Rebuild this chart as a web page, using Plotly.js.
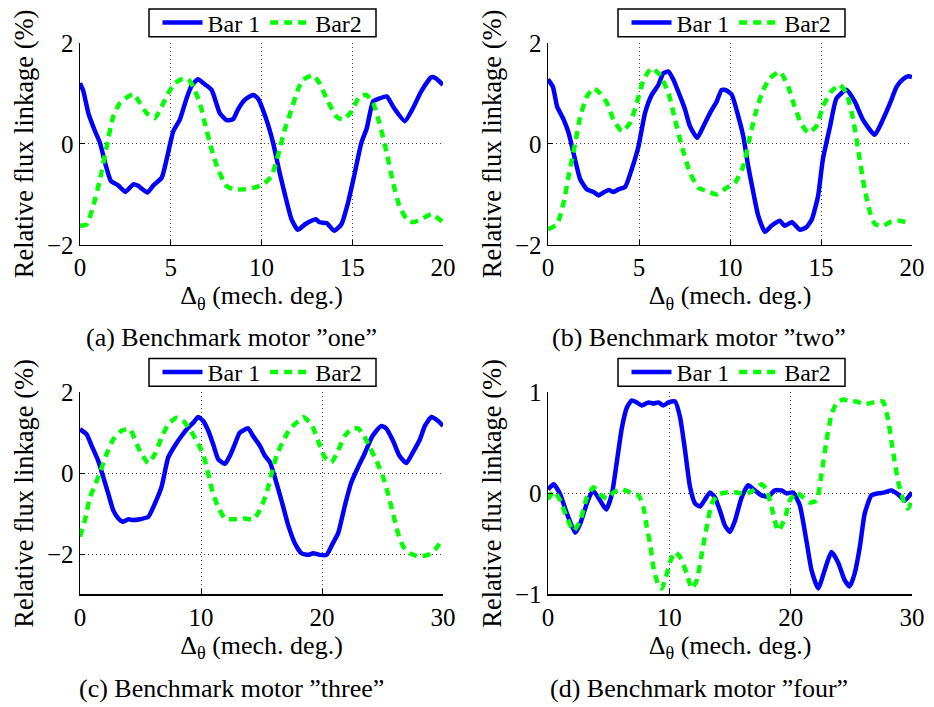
<!DOCTYPE html>
<html>
<head>
<meta charset="utf-8">
<script src="https://cdn.plot.ly/plotly-3.0.1.min.js"></script>
<style>html,body{margin:0;padding:0;background:#fff;}#chart{width:934px;height:707px;}</style>
</head>
<body>
<div id="chart"></div>
<script>
// ---------- data ----------
const seriesNames = ['Bar 1', 'Bar2'];
const captions = ['(a) Benchmark motor \u201done\u201d', '(b) Benchmark motor \u201dtwo\u201d',
                  '(c) Benchmark motor \u201dthree\u201d', '(d) Benchmark motor \u201dfour\u201d'];
const xTitle = '\u0394<sub>\u03b8</sub> (mech. deg.)';
const yTitle = 'Relative flux linkage (%)';

// (a) motor one
const aBar1X = [0,0.18,0.46,0.83,1.1,1.38,1.7,2.1,2.5,2.94,3.2,3.72,4.04,4.5,4.77,5.14,5.5,5.87,6.15,6.5,6.8,7.25,7.7,8.07,8.44,8.7,9.08,9.54,9.8,10.27,10.64,11.0,11.4,11.65,12.0,12.4,12.75,13.0,13.2,13.6,14.0,14.4,14.77,15.1,15.5,15.8,16.15,16.5,16.9,17.3,17.9,18.35,18.8,19.36,19.6,20];
const aBar1Y = [1.2,1.05,0.61,0.25,0.02,-0.37,-0.73,-0.82,-0.95,-0.8,-0.83,-0.96,-0.82,-0.67,-0.31,0.25,0.48,0.9,1.15,1.28,1.2,1.07,0.61,0.47,0.49,0.68,0.87,0.97,0.9,0.48,0.02,-0.57,-1.16,-1.49,-1.7,-1.59,-1.52,-1.49,-1.55,-1.57,-1.72,-1.59,-1.16,-0.64,0.02,0.31,0.84,0.9,0.94,0.71,0.45,0.71,1.04,1.32,1.3,1.17];
const aBar2X = [0,0.37,0.73,1.1,1.47,1.83,2.2,2.66,2.94,3.3,3.67,4.13,4.5,4.86,5.23,5.6,5.96,6.24,6.6,6.88,7.25,7.6,8.07,8.44,8.99,9.54,10.09,10.55,10.9,11.28,11.65,12.0,12.3,12.84,13.2,13.66,14.13,14.5,14.95,15.4,15.78,16.15,16.5,16.9,17.25,17.6,18.0,18.35,18.8,19.36,20];
const aBar2Y = [-1.62,-1.59,-1.23,-0.7,-0.05,0.54,0.81,0.94,0.99,0.81,0.61,0.51,0.74,1.0,1.2,1.28,1.28,1.13,0.81,0.41,-0.11,-0.5,-0.83,-0.9,-0.9,-0.87,-0.8,-0.64,-0.24,0.28,0.68,1.07,1.27,1.36,1.2,0.84,0.54,0.48,0.64,0.94,0.97,0.81,0.41,-0.18,-0.77,-1.23,-1.49,-1.55,-1.49,-1.39,-1.55];

// (b) motor two
const bBar1X = [0,0.27,0.5,0.86,1.13,1.4,1.77,2.14,2.5,2.78,3.05,3.33,3.6,3.87,4.24,4.6,4.97,5.33,5.7,6.07,6.34,6.62,6.89,7.26,7.53,7.8,8.2,8.54,8.9,9.27,9.54,9.8,10.1,10.46,10.73,11.0,11.28,11.55,11.92,12.28,12.74,13.0,13.4,13.84,14.2,14.5,14.84,15.1,15.5,15.85,16.4,16.85,17.3,17.95,18.4,18.8,19.15,19.5,19.8,20];
const bBar1Y = [1.28,1.13,0.74,0.48,0.22,-0.18,-0.7,-0.9,-0.95,-1.02,-0.96,-0.91,-0.95,-0.9,-0.85,-0.5,-0.05,0.61,0.97,1.17,1.4,1.43,1.27,0.94,0.68,0.35,0.12,0.35,0.61,0.84,1.07,1.06,0.97,0.54,0.15,-0.44,-0.96,-1.42,-1.74,-1.62,-1.52,-1.62,-1.55,-1.7,-1.65,-1.49,-1.03,-0.31,0.35,0.9,1.07,0.84,0.48,0.18,0.48,0.81,1.13,1.28,1.34,1.32];
const bBar2X = [0,0.5,0.86,1.13,1.5,1.77,2.14,2.5,2.87,3.24,3.6,4.06,4.5,4.88,5.25,5.7,6.16,6.62,6.98,7.35,7.8,8.26,8.72,9.27,9.8,10.27,10.73,11.1,11.46,11.83,12.2,12.74,13.2,13.55,13.9,14.3,14.75,15.1,15.57,16.03,16.4,16.77,17.04,17.4,17.7,17.97,18.4,18.85,19.3,19.67];
const bBar2Y = [-1.69,-1.59,-1.16,-0.64,0.02,0.54,0.94,1.1,1.0,0.81,0.48,0.25,0.41,0.81,1.27,1.5,1.36,1.0,0.48,-0.05,-0.57,-0.87,-0.93,-1.0,-0.87,-0.77,-0.44,0.15,0.68,1.07,1.3,1.43,1.13,0.74,0.41,0.22,0.35,0.74,1.04,1.17,1.0,0.48,-0.11,-0.9,-1.36,-1.59,-1.62,-1.54,-1.52,-1.55];

// (c) motor three
const cBar1X = [0,0.55,0.96,1.5,1.93,2.34,2.75,3.17,3.52,3.99,4.4,4.95,5.64,6.19,6.74,7.29,7.84,8.39,8.95,9.36,9.77,10.18,10.6,11.0,11.42,11.97,12.39,12.8,13.2,13.9,14.3,14.86,15.28,15.7,16.1,16.65,17.2,17.75,18.3,18.86,19.27,19.82,20.37,20.9,21.33,21.9,22.43,22.98,23.5,24.1,24.5,24.9,25.3,25.87,26.4,26.97,27.5,28.1,28.5,29.04,29.6,30];
const cBar1Y = [1.09,0.96,0.68,0.31,-0.1,-0.51,-0.92,-1.12,-1.2,-1.14,-1.16,-1.14,-1.08,-0.75,-0.34,0.39,0.68,0.92,1.13,1.25,1.39,1.29,1.05,0.72,0.35,0.23,0.43,0.72,1.0,1.11,0.92,0.68,0.43,0.27,-0.1,-0.67,-1.28,-1.73,-1.98,-2.02,-1.98,-2.02,-2.02,-1.73,-1.49,-0.79,-0.22,0.15,0.47,0.88,1.05,1.17,1.11,0.8,0.43,0.25,0.51,0.84,1.17,1.39,1.29,1.17];
const cBar2X = [0,0.41,0.83,1.24,1.65,2.2,2.75,3.44,4.13,4.68,5.1,5.64,6.19,6.74,7.29,7.98,8.53,9.08,9.63,10.18,10.6,11.0,11.42,11.97,12.66,13.49,14.3,14.86,15.4,15.83,16.24,16.79,17.34,17.89,18.44,19.13,19.68,20.23,20.78,21.33,21.88,22.43,22.98,23.4,23.95,24.5,25.05,25.46,25.87,26.29,26.7,27.25,27.94,28.76,29.45,30];
const cBar2Y = [-1.57,-1.16,-0.59,-0.3,0.02,0.47,0.84,1.05,1.09,0.72,0.47,0.25,0.47,0.88,1.21,1.37,1.29,1.09,0.8,0.47,-0.02,-0.51,-0.83,-1.12,-1.14,-1.12,-1.14,-0.92,-0.51,-0.02,0.43,0.8,1.09,1.25,1.39,1.21,0.8,0.39,0.27,0.56,0.92,1.09,1.11,0.96,0.64,0.31,-0.1,-0.51,-1.0,-1.49,-1.81,-1.98,-2.06,-2.02,-1.85,-1.61];

// (d) motor four
const dBar1X = [0,0.47,1.01,1.56,2.25,2.66,3.2,3.7,4.3,4.8,5.26,5.68,6.09,6.5,6.9,7.32,7.73,8.28,8.69,9.1,9.51,9.93,10.47,10.89,11.3,11.71,12.12,12.53,12.94,13.35,13.76,14.17,14.59,15.0,15.41,15.96,16.5,17.05,17.6,18.15,18.7,19.25,19.66,20.2,20.76,21.3,21.72,22.27,22.8,23.36,23.9,24.46,24.87,25.28,25.7,26.1,26.65,27.2,27.75,28.3,28.85,29.4,30];
const dBar1Y = [0.04,0.09,-0.01,-0.2,-0.39,-0.3,-0.1,0.03,-0.07,-0.16,-0.01,0.32,0.65,0.85,0.92,0.9,0.87,0.9,0.89,0.9,0.87,0.9,0.91,0.75,0.42,0.06,-0.1,-0.13,-0.06,0.01,-0.04,-0.17,-0.32,-0.38,-0.27,-0.04,0.08,0.03,-0.02,-0.03,0.03,0.03,0.0,0.01,-0.12,-0.47,-0.76,-0.94,-0.76,-0.58,-0.68,-0.86,-0.92,-0.79,-0.53,-0.2,-0.02,0.0,0.01,0.03,-0.01,-0.07,0.01];
const dBar2X = [0,0.47,1.01,1.56,2.11,2.66,3.2,3.76,4.3,4.85,5.4,6.09,6.77,7.46,7.87,8.14,8.42,8.69,9.1,9.37,9.65,10.06,10.47,10.89,11.43,11.85,12.26,12.67,13.08,13.5,14.04,14.73,15.56,16.24,16.92,17.6,18.0,18.43,18.97,19.52,19.93,20.48,21.03,21.58,22.13,22.54,22.95,23.36,23.77,24.32,24.87,25.42,26.1,26.8,27.6,28.0,28.43,28.85,29.26,29.67,30];
const dBar2Y = [-0.06,0.02,-0.07,-0.24,-0.37,-0.27,-0.04,0.06,-0.01,-0.05,0.01,0.04,0.01,-0.02,-0.14,-0.33,-0.5,-0.73,-0.91,-0.94,-0.86,-0.68,-0.58,-0.63,-0.79,-0.94,-0.86,-0.6,-0.33,-0.1,-0.01,0.01,0.01,-0.01,0.03,0.09,0.04,-0.14,-0.37,-0.25,-0.07,0.01,-0.04,-0.09,-0.07,0.19,0.52,0.78,0.89,0.93,0.91,0.91,0.88,0.9,0.91,0.75,0.42,0.12,-0.06,-0.15,-0.07];

// axis ranges / ticks per panel
const xRanges = [[0,20],[0,20],[0,30],[0,30]];
const xTicks  = [[0,5,10,15,20],[0,5,10,15,20],[0,10,20,30],[0,10,20,30]];
const yRanges = [[-2,2],[-2,2],[-3,2],[-1,1]];
const yTicks  = [[-2,0,2],[-2,0,2],[-2,0,2],[-1,0,1]];

// ---------- layout geometry ----------
const W = 934, H = 707;
const FONT = '"Liberation Serif", "Times New Roman", Times, serif';
const FS = 25;
const panels = [
  {x0: 80,  x1: 443, y0: 40,  y1: 243, capX: 231, capY: 336, lgX0: 149, lgX1: 376, lgY0: 6,   lgY1: 34},
  {x0: 548, x1: 912, y0: 40,  y1: 243, capX: 699, capY: 336, lgX0: 618, lgX1: 845, lgY0: 6,   lgY1: 34},
  {x0: 80,  x1: 443, y0: 391, y1: 594, capX: 231, capY: 688, lgX0: 149, lgX1: 376, lgY0: 357, lgY1: 385},
  {x0: 548, x1: 912, y0: 391, y1: 594, capX: 699, capY: 688, lgX0: 618, lgX1: 845, lgY0: 357, lgY1: 385}
];

const seriesData = [
  [[aBar1X, aBar1Y], [aBar2X, aBar2Y]],
  [[bBar1X, bBar1Y], [bBar2X, bBar2Y]],
  [[cBar1X, cBar1Y], [cBar2X, cBar2Y]],
  [[dBar1X, dBar1Y], [dBar2X, dBar2Y]]
];

const lineStyles = [
  {color: '#0000ff', width: 4.5},
  {color: '#00ff00', width: 4.5, dash: '8px,6px'}
];

const traces = [];
const layout = {
  width: W, height: H,
  margin: {l: 0, r: 0, t: 0, b: 0},
  paper_bgcolor: '#ffffff', plot_bgcolor: '#ffffff',
  font: {family: FONT, size: FS, color: '#000'},
  showlegend: true,
  annotations: [],
  shapes: []
};

panels.forEach((p, i) => {
  const n = i + 1;
  const xa = n === 1 ? 'x' : 'x' + n;
  const ya = n === 1 ? 'y' : 'y' + n;
  const xKey = n === 1 ? 'xaxis' : 'xaxis' + n;
  const yKey = n === 1 ? 'yaxis' : 'yaxis' + n;
  const legKey = n === 1 ? 'legend' : 'legend' + n;
  const xDom = [p.x0 / W, p.x1 / W];
  const yDom = [1 - p.y1 / H, 1 - p.y0 / H];

  seriesData[i].forEach((s, k) => {
    traces.push({
      type: 'scatter', mode: 'lines',
      x: s[0], y: s[1],
      xaxis: xa, yaxis: ya,
      name: seriesNames[k],
      legend: legKey,
      line: Object.assign({shape: 'spline', smoothing: 0.5}, lineStyles[k]),
      hoverinfo: 'skip'
    });
  });

  const common = {
    showgrid: true, gridcolor: '#444', griddash: '1px,3px', gridwidth: 1,
    zeroline: false, showline: true, linecolor: '#000', linewidth: 1.5,
    ticks: 'inside', ticklen: 5, tickcolor: '#000', tickwidth: 1,
    tickfont: {family: FONT, size: FS, color: '#000'},
    fixedrange: true, automargin: false
  };
  layout[xKey] = Object.assign({}, common, {
    domain: xDom, anchor: ya, range: xRanges[i], tickmode: 'array', tickvals: xTicks[i],
    title: {text: xTitle, standoff: 0, font: {family: FONT, size: 26, color: '#000'}}
  });
  layout[yKey] = Object.assign({}, common, {
    domain: yDom, anchor: xa, range: yRanges[i], tickmode: 'array', tickvals: yTicks[i],
    title: {text: yTitle, standoff: 5, font: {family: FONT, size: 26.5, color: '#000'}}
  });

  // legend box (frame drawn as a shape so it can be as compact as the reference)
  layout.shapes.push({
    type: 'rect', xref: 'paper', yref: 'paper', layer: 'above',
    x0: p.lgX0 / W, x1: p.lgX1 / W, y0: 1 - p.lgY1 / H, y1: 1 - p.lgY0 / H,
    line: {color: '#000', width: 1.5}, fillcolor: '#ffffff'
  });
  layout[legKey] = {
    x: (p.lgX0 + p.lgX1) / 2 / W, xref: 'paper', xanchor: 'center',
    y: 1 - (p.lgY0 + p.lgY1) / 2 / H, yref: 'paper', yanchor: 'middle',
    orientation: 'h', bgcolor: 'rgba(0,0,0,0)', borderwidth: 0,
    font: {family: FONT, size: 24, color: '#000'}, itemwidth: 40, itemclick: false, itemdoubleclick: false
  };

  layout.annotations.push({
    xref: 'paper', yref: 'paper', x: p.capX / W, y: 1 - p.capY / H,
    xanchor: 'center', yanchor: 'middle', showarrow: false,
    text: captions[i], font: {family: FONT, size: 26, color: '#000'}
  });
});

Plotly.newPlot('chart', traces, layout, {staticPlot: true, displayModeBar: false});
</script>
</body>
</html>
